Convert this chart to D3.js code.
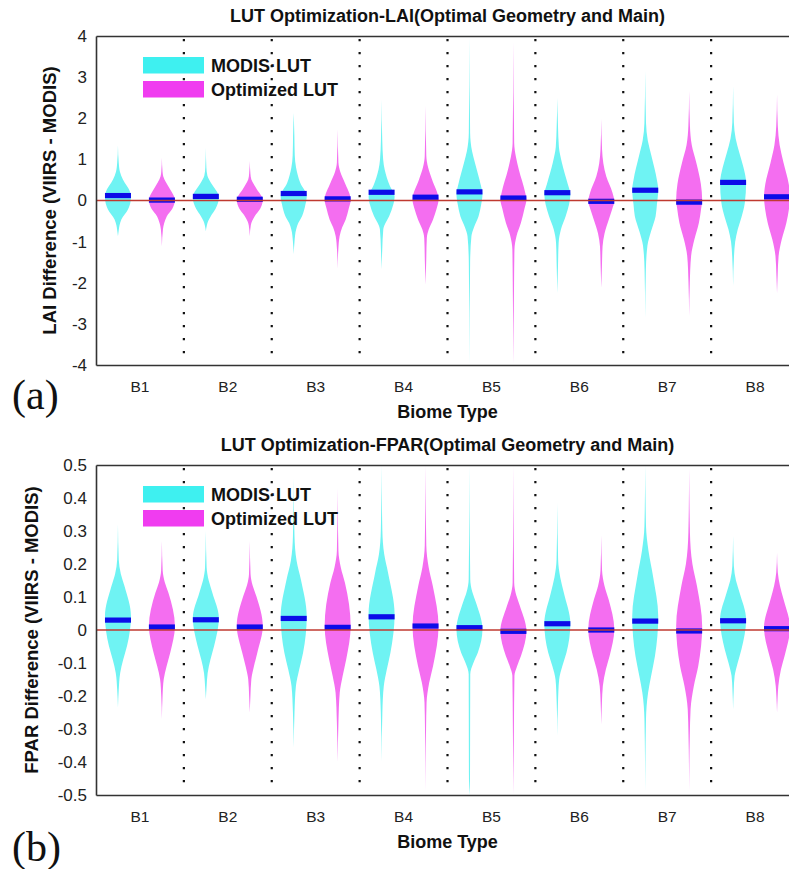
<!DOCTYPE html>
<html>
<head>
<meta charset="utf-8">
<script src="https://cdn.jsdelivr.net/npm/d3@7/dist/d3.min.js"></script>
<style>
body { margin: 0; background: #fff; }
svg { display: block; font-family: "Liberation Sans", Arial, sans-serif; }
</style>
</head>
<body>
<svg id="chart" width="789" height="869"></svg>
<script>
//----------DATA----------

var biomes = ['B1', 'B2', 'B3', 'B4', 'B5', 'B6', 'B7', 'B8'];
var seriesKeys = ['modis', 'opt'];
var seriesNames = ['MODIS\u00b7LUT', 'Optimized LUT'];

var laiTicks = [-4, -3, -2, -1, 0, 1, 2, 3, 4];
var fparTicks = [-0.5, -0.4, -0.3, -0.2, -0.1, 0, 0.1, 0.2, 0.3, 0.4, 0.5];

// violin outlines: [value, relative density]
var laiModisShape = [
    [[1.34,0],[0.92,0.06],[0.7,0.15],[0.51,0.38],[0.19,0.95],[0.07,1],[-0.22,0.77],[-0.46,0.26],[-0.6,0.12],[-0.7,0.07],[-0.87,0]],
    [[1.28,0],[0.8,0.04],[0.6,0.12],[0.4,0.45],[0.15,0.95],[0.06,1],[-0.2,0.75],[-0.38,0.38],[-0.5,0.18],[-0.6,0.08],[-0.75,0]],
    [[2.13,0],[1.57,0.05],[1.1,0.08],[0.8,0.18],[0.43,0.5],[0.1,1],[-0.1,0.9],[-0.38,0.64],[-0.55,0.35],[-0.7,0.19],[-1.0,0.06],[-1.31,0]],
    [[2.46,0],[1.48,0.05],[1.0,0.12],[0.75,0.24],[0.35,0.64],[0.1,1],[-0.1,0.9],[-0.38,0.58],[-0.55,0.3],[-0.7,0.13],[-1.2,0.05],[-1.68,0]],
    [[3.97,0],[1.65,0.05],[1.2,0.2],[0.92,0.42],[0.4,0.85],[0.15,1],[-0.1,0.9],[-0.38,0.7],[-0.65,0.35],[-0.87,0.15],[-1.5,0.05],[-3.97,0]],
    [[2.5,0],[1.81,0.05],[1.3,0.12],[0.92,0.35],[0.4,0.8],[0.15,1],[-0.1,0.9],[-0.38,0.64],[-0.7,0.28],[-1.03,0.1],[-1.6,0.05],[-2.25,0]],
    [[3.15,0],[1.89,0.06],[1.45,0.2],[1.08,0.48],[0.5,0.9],[0.27,1],[-0.1,0.9],[-0.38,0.8],[-0.75,0.45],[-1.1,0.17],[-1.68,0.05],[-2.85,0]],
    [[2.78,0],[1.89,0.06],[1.5,0.2],[1.16,0.48],[0.8,0.8],[0.43,1],[-0.06,0.9],[-0.4,0.65],[-0.7,0.36],[-1.0,0.16],[-1.35,0.07],[-2.08,0]]
];
var laiOptShape = [
    [[1.04,0],[0.7,0.05],[0.59,0.1],[0.45,0.3],[0.27,0.64],[0.02,1],[-0.2,0.8],[-0.38,0.38],[-0.55,0.18],[-0.7,0.08],[-1.11,0]],
    [[0.96,0],[0.65,0.05],[0.51,0.12],[0.4,0.3],[0.27,0.55],[0.02,1],[-0.2,0.8],[-0.38,0.38],[-0.5,0.18],[-0.6,0.08],[-0.87,0]],
    [[1.73,0],[0.92,0.06],[0.7,0.2],[0.43,0.55],[0.02,1],[-0.2,0.85],[-0.46,0.62],[-0.65,0.35],[-0.87,0.15],[-1.2,0.05],[-1.66,0]],
    [[2.31,0],[1.08,0.06],[0.8,0.2],[0.51,0.5],[0.02,1],[-0.2,0.85],[-0.46,0.58],[-0.7,0.25],[-0.91,0.1],[-1.5,0.05],[-2.04,0]],
    [[3.85,0],[1.4,0.06],[1.05,0.2],[0.75,0.42],[0.2,0.9],[0.02,1],[-0.2,0.85],[-0.54,0.58],[-0.85,0.25],[-1.19,0.08],[-2.0,0.05],[-3.97,0]],
    [[1.99,0],[1.24,0.06],[0.9,0.16],[0.59,0.38],[0.2,0.85],[-0.02,1],[-0.2,0.85],[-0.46,0.58],[-0.8,0.25],[-1.11,0.1],[-1.6,0.05],[-2.12,0]],
    [[2.66,0],[1.81,0.06],[1.35,0.2],[0.92,0.55],[0.4,0.9],[0.02,1],[-0.2,0.92],[-0.54,0.75],[-0.95,0.4],[-1.35,0.15],[-2.0,0.05],[-2.81,0]],
    [[2.58,0],[1.81,0.06],[1.35,0.2],[0.92,0.5],[0.4,0.9],[0.1,1],[-0.2,0.92],[-0.54,0.72],[-0.95,0.36],[-1.35,0.12],[-1.8,0.05],[-2.25,0]]
];
var laiModisMean = [0.12, 0.10, 0.17, 0.20, 0.21, 0.19, 0.25, 0.44];
var laiOptMean = [0.01, 0.03, 0.04, 0.08, 0.06, -0.02, -0.04, 0.09];

var fparModisShape = [
    [[0.32,0],[0.214,0.06],[0.17,0.22],[0.133,0.5],[0.042,1],[-0.048,0.7],[-0.09,0.4],[-0.13,0.17],[-0.18,0.06],[-0.235,0]],
    [[0.30,0],[0.19,0.06],[0.15,0.22],[0.113,0.5],[0.037,1],[-0.048,0.64],[-0.09,0.35],[-0.13,0.14],[-0.17,0.06],[-0.21,0]],
    [[0.46,0],[0.285,0.06],[0.21,0.22],[0.153,0.55],[0.042,1],[-0.069,0.72],[-0.12,0.42],[-0.17,0.17],[-0.25,0.06],[-0.357,0]],
    [[0.5,0],[0.30,0.06],[0.23,0.2],[0.173,0.5],[0.048,1],[-0.069,0.68],[-0.12,0.4],[-0.17,0.17],[-0.25,0.06],[-0.40,0]],
    [[0.5,0],[0.154,0.06],[0.115,0.22],[0.083,0.5],[0.002,1],[-0.069,0.64],[-0.1,0.3],[-0.134,0.06],[-0.45,0.04],[-0.5,0]],
    [[0.386,0],[0.214,0.06],[0.16,0.22],[0.113,0.5],[0.02,1],[-0.069,0.7],[-0.11,0.38],[-0.15,0.14],[-0.22,0.05],[-0.32,0]],
    [[0.5,0],[0.315,0.06],[0.24,0.25],[0.163,0.6],[0.042,1],[-0.079,0.75],[-0.14,0.45],[-0.19,0.22],[-0.27,0.06],[-0.49,0]],
    [[0.285,0],[0.194,0.06],[0.15,0.22],[0.113,0.5],[0.032,1],[-0.059,0.64],[-0.1,0.35],[-0.139,0.12],[-0.18,0.05],[-0.24,0]]
];
var fparOptShape = [
    [[0.27,0],[0.18,0.06],[0.145,0.22],[0.113,0.5],[0.012,1],[-0.069,0.64],[-0.11,0.36],[-0.149,0.14],[-0.2,0.05],[-0.27,0]],
    [[0.27,0],[0.17,0.06],[0.135,0.22],[0.103,0.5],[0.012,1],[-0.069,0.58],[-0.11,0.32],[-0.149,0.12],[-0.2,0.05],[-0.25,0]],
    [[0.43,0],[0.24,0.06],[0.19,0.24],[0.143,0.56],[0.012,1],[-0.089,0.66],[-0.14,0.38],[-0.19,0.16],[-0.28,0.06],[-0.40,0]],
    [[0.5,0],[0.255,0.06],[0.19,0.24],[0.133,0.56],[0.012,1],[-0.109,0.58],[-0.16,0.28],[-0.22,0.08],[-0.3,0.04],[-0.49,0]],
    [[0.5,0],[0.143,0.06],[0.105,0.22],[0.073,0.5],[-0.003,1],[-0.079,0.58],[-0.11,0.28],[-0.139,0.08],[-0.3,0.04],[-0.5,0]],
    [[0.287,0],[0.18,0.06],[0.135,0.24],[0.093,0.56],[0.002,1],[-0.079,0.64],[-0.12,0.35],[-0.17,0.12],[-0.22,0.05],[-0.286,0]],
    [[0.49,0],[0.295,0.06],[0.2,0.25],[0.133,0.6],[0.012,1],[-0.109,0.7],[-0.17,0.36],[-0.24,0.11],[-0.32,0.05],[-0.49,0]],
    [[0.234,0],[0.174,0.06],[0.135,0.22],[0.093,0.5],[0.007,1],[-0.079,0.58],[-0.12,0.3],[-0.17,0.1],[-0.2,0.05],[-0.25,0]]
];
var fparModisMean = [0.030, 0.031, 0.035, 0.040, 0.007, 0.019, 0.027, 0.028];
var fparOptMean = [0.009, 0.009, 0.008, 0.012, -0.004, 0.000, -0.003, 0.004];

//----------STYLE----------

var violinFill = {modis: '#6ff3f3', opt: '#f46ef0'};
var legendFill = {modis: '#3ef0f0', opt: '#f03cf0'};
var meanFill = '#0c0ce8';
var zeroColor = '#c03a30';
var inkColor = '#111';

//----------PANELS----------

var panels = [
    {
        title: 'LUT Optimization-LAI(Optimal Geometry and Main)',
        yLabel: 'LAI Difference (VIIRS - MODIS)',
        letter: '(a)', letterY: 409, yLabelX: 56,
        top: 36, bottom: 365, domain: [-4, 4], ticks: laiTicks,
        shapes: {modis: laiModisShape, opt: laiOptShape},
        means: {modis: laiModisMean, opt: laiOptMean}
    },
    {
        title: 'LUT Optimization-FPAR(Optimal Geometry and Main)',
        yLabel: 'FPAR Difference (VIIRS - MODIS)',
        letter: '(b)', letterY: 861, yLabelX: 38,
        top: 465, bottom: 795, domain: [-0.5, 0.5], ticks: fparTicks,
        shapes: {modis: fparModisShape, opt: fparOptShape},
        means: {modis: fparModisMean, opt: fparOptMean}
    }
];

var plotLeft = 96, plotRight = 799;

function drawPanel(svg, p) {
    var g = svg.append('g');

    var x = d3.scaleBand().domain(biomes).range([plotLeft, plotRight]);
    var xs = d3.scalePoint().domain(seriesKeys).range([0, x.bandwidth()]).padding(0.5);
    var y = d3.scaleLinear().domain(p.domain).range([p.bottom, p.top]);
    var w = d3.scaleLinear().domain([0, 1]).range([0, 13]);

    var area = d3.area()
        .y(function(d) { return y(d[0]); })
        .x0(function(d) { return -w(d[1]); })
        .x1(function(d) { return w(d[1]); })
        .curve(d3.curveMonotoneY);

    //violins
    seriesKeys.forEach(function(s) {
        g.append('g').selectAll('path')
            .data(p.shapes[s])
            .enter()
            .append('path')
            .attr('transform', function(d, i) { return 'translate(' + (x(biomes[i]) + xs(s)) + ',0)'; })
            .attr('d', area)
            .attr('fill', violinFill[s]);
    });

    //mean bars
    seriesKeys.forEach(function(s) {
        g.append('g').selectAll('rect')
            .data(p.means[s])
            .enter()
            .append('rect')
            .attr('x', function(d, i) { return x(biomes[i]) + xs(s) - 13; })
            .attr('y', function(d) { return y(d) - 2.6; })
            .attr('width', 26)
            .attr('height', 5.2)
            .attr('fill', meanFill);
    });

    //zero line
    g.append('line')
        .attr('x1', plotLeft).attr('x2', plotRight)
        .attr('y1', y(0)).attr('y2', y(0))
        .attr('stroke', zeroColor)
        .attr('stroke-width', 1.7);

    //dotted biome separators
    g.append('g').selectAll('line')
        .data(biomes.slice(1))
        .enter()
        .append('line')
        .attr('x1', function(d) { return x(d); })
        .attr('x2', function(d) { return x(d); })
        .attr('y1', p.top + 3)
        .attr('y2', p.bottom - 8)
        .attr('stroke', inkColor)
        .attr('stroke-width', 2.2)
        .attr('stroke-dasharray', '2.2,10.8');

    //axes
    var yAxis = g.append('g')
        .attr('transform', 'translate(' + plotLeft + ',0)')
        .call(d3.axisLeft(y).tickValues(p.ticks).tickSize(0).tickPadding(9)
            .tickFormat(function(d) { return String(+d.toFixed(1)); }));
    var xAxis = g.append('g')
        .attr('transform', 'translate(0,' + p.bottom + ')')
        .call(d3.axisBottom(x).tickSize(0).tickPadding(15.5));
    var topAxis = g.append('g')
        .attr('transform', 'translate(0,' + p.top + ')')
        .call(d3.axisTop(x).tickValues([]).tickSizeOuter(0));

    [yAxis, xAxis, topAxis].forEach(function(a) {
        a.select('.domain').attr('stroke', '#333').attr('stroke-width', 1.6);
        a.selectAll('text')
            .attr('fill', '#222')
            .style('font-family', '"Liberation Sans", Arial, sans-serif');
    });
    yAxis.selectAll('text').style('font-size', '17px');
    xAxis.selectAll('text').style('font-size', '15.5px');

    //titles
    g.append('text')
        .attr('x', (plotLeft + plotRight) / 2)
        .attr('y', p.top - 14)
        .attr('text-anchor', 'middle')
        .attr('font-weight', 'bold')
        .attr('font-size', 18)
        .attr('fill', inkColor)
        .text(p.title);

    g.append('text')
        .attr('x', (plotLeft + plotRight) / 2)
        .attr('y', p.bottom + 53)
        .attr('text-anchor', 'middle')
        .attr('font-weight', 'bold')
        .attr('font-size', 18)
        .attr('fill', inkColor)
        .text('Biome Type');

    g.append('text')
        .attr('transform', 'translate(' + p.yLabelX + ',' + ((p.top + p.bottom) / 2) + ') rotate(-90)')
        .attr('text-anchor', 'middle')
        .attr('font-weight', 'bold')
        .attr('font-size', 18.5)
        .attr('fill', inkColor)
        .text(p.yLabel);

    g.append('text')
        .attr('x', 12)
        .attr('y', p.letterY)
        .attr('font-family', '"Liberation Serif", "DejaVu Serif", serif')
        .attr('font-size', 42)
        .attr('fill', inkColor)
        .text(p.letter);

    //legend
    var legend = g.append('g')
        .attr('transform', 'translate(143,' + (p.top + 21) + ')');
    legend.selectAll('rect')
        .data(seriesKeys)
        .enter()
        .append('rect')
        .attr('x', 0)
        .attr('y', function(d, i) { return i * 24; })
        .attr('width', 61)
        .attr('height', 16.5)
        .attr('fill', function(d) { return legendFill[d]; });
    legend.selectAll('text')
        .data(seriesNames)
        .enter()
        .append('text')
        .attr('x', 68)
        .attr('y', function(d, i) { return 15 + i * 24; })
        .attr('font-weight', 'bold')
        .attr('font-size', 18)
        .attr('fill', inkColor)
        .text(function(d) { return d; });
}

var svg = d3.select('#chart');
panels.forEach(function(p) { drawPanel(svg, p); });
</script>
</body>
</html>
